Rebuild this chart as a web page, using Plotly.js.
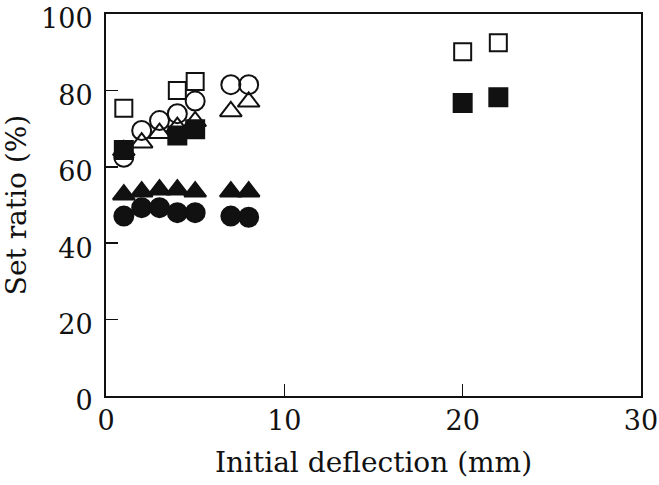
<!DOCTYPE html>
<html>
<head>
<meta charset="utf-8">
<script src="https://cdn.plot.ly/plotly-3.0.1.min.js"></script>
<style>html,body{margin:0;padding:0;background:#fff;}#chart{width:659px;height:485px;}</style>
</head>
<body>
<div id="chart"></div>
<script>
// Initial deflection (mm)
const xSmall = [1, 2, 3, 4, 5, 7, 8];
const xSquares = [1, 4, 5, 20, 22];

// Set ratio (%)
const openCircleY   = [62.5, 69.5, 72.1, 73.9, 77.2, 81.5, 81.5];
const openTriangleY = [64.3, 66.3, 68.8, 70.4, 71.9, 74.5, 77.0];
const openSquareY   = [75.3, 80.0, 82.3, 90.1, 92.5];
const filledTriangleY = [52.7, 53.5, 54.0, 54.0, 53.5, 53.5, 53.5];
const filledCircleY   = [47.1, 49.3, 49.3, 48.0, 48.0, 47.1, 46.8];
const filledSquareY   = [64.4, 68.2, 69.8, 76.7, 78.2];

const xTicks = [0, 10, 20, 30];
const yTicks = [0, 20, 40, 60, 80, 100];

const ink = '#111111';
function trace(x, y, symbol, size) {
  return {
    type: 'scatter', mode: 'markers', x: x, y: y, showlegend: false,
    cliponaxis: false,
    marker: { symbol: symbol, size: size, color: ink, line: { color: ink, width: 2 } }
  };
}

const data = [
  trace(xSmall, openCircleY, 'circle-open', 19),
  trace(xSmall, openTriangleY, 'triangle-up-open', 19),
  trace(xSquares, openSquareY, 'square-open', 17),
  trace(xSmall, filledTriangleY, 'triangle-up', 19),
  trace(xSmall, filledCircleY, 'circle', 19),
  trace(xSquares, filledSquareY, 'square', 18)
];

const tickFont = { family: 'DejaVu Serif', size: 27, color: ink };
const titleFont = { family: 'DejaVu Serif', size: 28, color: ink };

const layout = {
  width: 659, height: 485,
  margin: { l: 106, r: 18, t: 14, b: 89 },
  paper_bgcolor: '#ffffff', plot_bgcolor: '#ffffff',
  xaxis: {
    range: [0, 30], tickvals: xTicks, ticktext: xTicks.map(String),
    ticks: 'inside', ticklen: 12, tickwidth: 1.5, tickcolor: ink,
    showline: true, mirror: true, linewidth: 2, linecolor: ink,
    showgrid: false, zeroline: false, tickfont: tickFont,
    ticklabeloverflow: 'allow',
    title: { text: 'Initial deflection (mm)', font: titleFont, standoff: 17 }
  },
  yaxis: {
    range: [0, 100], tickvals: yTicks, ticktext: yTicks.map(String),
    ticks: 'inside', ticklen: 12, tickwidth: 1.5, tickcolor: ink,
    showline: true, mirror: true, linewidth: 2, linecolor: ink,
    showgrid: false, zeroline: false, tickfont: tickFont,
    ticklabelstandoff: 6, ticklabelshift: 5, ticklabeloverflow: 'allow',
    title: { text: 'Set ratio (%)', font: titleFont, standoff: 20 }
  }
};

Plotly.newPlot('chart', data, layout, { staticPlot: true, displayModeBar: false });
</script>
</body>
</html>
